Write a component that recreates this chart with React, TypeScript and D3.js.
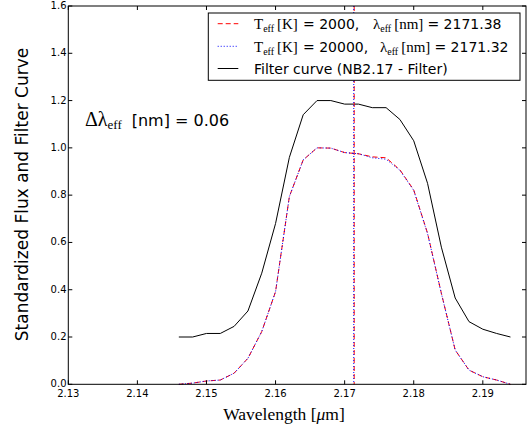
import React from "react";
import * as d3 from "d3";

const wavelengths = [2.146, 2.148, 2.150, 2.152, 2.154, 2.156, 2.158, 2.160, 2.162, 2.164, 2.166, 2.168, 2.170, 2.172, 2.174, 2.176, 2.178, 2.180, 2.182, 2.184, 2.186, 2.188, 2.190, 2.192, 2.194];
const filterCurve = [0.20, 0.20, 0.215, 0.215, 0.245, 0.31, 0.47, 0.68, 0.96, 1.14, 1.20, 1.20, 1.185, 1.185, 1.17, 1.17, 1.12, 1.03, 0.85, 0.58, 0.365, 0.265, 0.233, 0.215, 0.20];
const fluxCool = [0.0, 0.005, 0.014, 0.018, 0.047, 0.11, 0.223, 0.392, 0.794, 0.949, 1.0, 0.999, 0.98, 0.975, 0.962, 0.958, 0.907, 0.822, 0.639, 0.385, 0.145, 0.06, 0.032, 0.018, 0.0];
const fluxHot = [0.0, 0.005, 0.014, 0.018, 0.047, 0.11, 0.223, 0.392, 0.794, 0.949, 1.0, 0.999, 0.98, 0.975, 0.958, 0.952, 0.905, 0.82, 0.637, 0.384, 0.145, 0.06, 0.032, 0.018, 0.0];
const lambdaCool = 2.17138;
const lambdaHot = 2.17132;
const xTicks = [2.13, 2.14, 2.15, 2.16, 2.17, 2.18, 2.19];
const yTicks = [0, 0.2, 0.4, 0.6, 0.8, 1.0, 1.2, 1.4, 1.6];

const W = 528, H = 429;
const L = 68.3, R = 526, T = 6, B = 384.3;
const SANS = "'DejaVu Sans', sans-serif";
const SERIF = "'Liberation Serif', serif";

export default function App() {
  const x = d3.scaleLinear().domain([2.13, 2.19625]).range([L, R]);
  const y = d3.scaleLinear().domain([0, 1.6]).range([B, T]);
  const line = (vals: number[]) =>
    d3.line<number>().x((_, i) => x(wavelengths[i])).y((v) => y(v))(vals) || "";
  const tl = 4;

  return (
    <svg width={W} height={H} style={{ position: "absolute", left: 0, top: 0, background: "#fff" }}>
      <rect x={0} y={0} width={W} height={H} fill="#fff" />
      {/* curves */}
      <path d={line(filterCurve)} fill="none" stroke="#000" strokeWidth={1} />
      <path d={line(fluxCool)} fill="none" stroke="#ff0000" strokeWidth={1} strokeDasharray="5,3" />
      <path d={line(fluxHot)} fill="none" stroke="#0000ff" strokeWidth={1} strokeDasharray="1,2" />
      <line x1={x(lambdaCool)} x2={x(lambdaCool)} y1={T} y2={B} stroke="#ff0000" strokeWidth={1} strokeDasharray="5,3" />
      <line x1={x(lambdaHot)} x2={x(lambdaHot)} y1={T} y2={B} stroke="#0000ff" strokeWidth={1} strokeDasharray="1,2" />

      {/* frame */}
      <rect x={L} y={T} width={R - L} height={B - T} fill="none" stroke="#000" strokeWidth={1} />
      {xTicks.map((t) => (
        <g key={"x" + t}>
          <line x1={x(t)} x2={x(t)} y1={B} y2={B - tl} stroke="#000" />
          <line x1={x(t)} x2={x(t)} y1={T} y2={T + tl} stroke="#000" />
          <text x={x(t)} y={396.5} fontFamily={SANS} fontSize={10} textAnchor="middle" fill="#000">
            {t.toFixed(2)}
          </text>
        </g>
      ))}
      {yTicks.map((t) => (
        <g key={"y" + t}>
          <line x1={L} x2={L + tl} y1={y(t)} y2={y(t)} stroke="#000" />
          <line x1={R} x2={R - tl} y1={y(t)} y2={y(t)} stroke="#000" />
          <text x={66.5} y={y(t) + 3} fontFamily={SANS} fontSize={10} textAnchor="end" fill="#000">
            {t.toFixed(1)}
          </text>
        </g>
      ))}

      {/* axis labels */}
      <text x={284} y={420} fontFamily={SERIF} fontSize={17.5} textAnchor="middle" fill="#000">
        Wavelength [<tspan fontStyle="italic">μ</tspan>m]
      </text>
      <text transform={`translate(28,${(47 + 342) / 2}) rotate(-90)`} fontFamily={SANS} fontSize={17} textAnchor="middle" fill="#000">
        Standardized Flux and Filter Curve
      </text>

      {/* annotation */}
      <text x={85} y={125.7} fill="#000">
        <tspan fontFamily={SERIF} fontSize={20}>Δλ</tspan>
        <tspan fontFamily={SERIF} fontSize={13} dy={3}>eff</tspan>
        <tspan x={131.7} dy={-3} fontFamily={SANS} fontSize={16}>[nm] = 0.06</tspan>
      </text>

      {/* legend */}
      <rect x={208.3} y={13} width={520 - 208.3} height={80.3 - 13} fill="#fff" stroke="#000" strokeWidth={1} />
      <line x1={217.7} x2={238.3} y1={23.7} y2={23.7} stroke="#ff0000" strokeDasharray="5,3" />
      <line x1={217.7} x2={238.3} y1={46.3} y2={46.3} stroke="#0000ff" strokeDasharray="1,2" />
      <line x1={217.7} x2={238.3} y1={68.5} y2={68.5} stroke="#000" />
      {[
        { yb: 29, temp: "2000,", lx: 373, lam: "2171.38" },
        { yb: 51.5, temp: "20000,", lx: 380, lam: "2171.32" },
      ].map((r) => (
        <text key={r.temp} y={r.yb} fill="#000">
          <tspan x={254} fontFamily={SERIF} fontSize={15}>T</tspan>
          <tspan fontFamily={SERIF} fontSize={10} dy={3}>eff</tspan>
          <tspan x={277} dy={-3} fontFamily={SERIF} fontSize={15}>[K]</tspan>
          <tspan x={303} fontFamily={SANS} fontSize={14}>= {r.temp}</tspan>
          <tspan x={r.lx} fontFamily={SERIF} fontSize={15}>λ</tspan>
          <tspan fontFamily={SERIF} fontSize={10} dy={3}>eff</tspan>
          <tspan dx={3} dy={-3} fontFamily={SERIF} fontSize={15}>[nm]</tspan>
          <tspan dx={4} fontFamily={SANS} fontSize={14}>= {r.lam}</tspan>
        </text>
      ))}
      <text x={254} y={73.5} fontFamily={SANS} fontSize={14} fill="#000">
        Filter curve (NB2.17 - Filter)
      </text>
    </svg>
  );
}
